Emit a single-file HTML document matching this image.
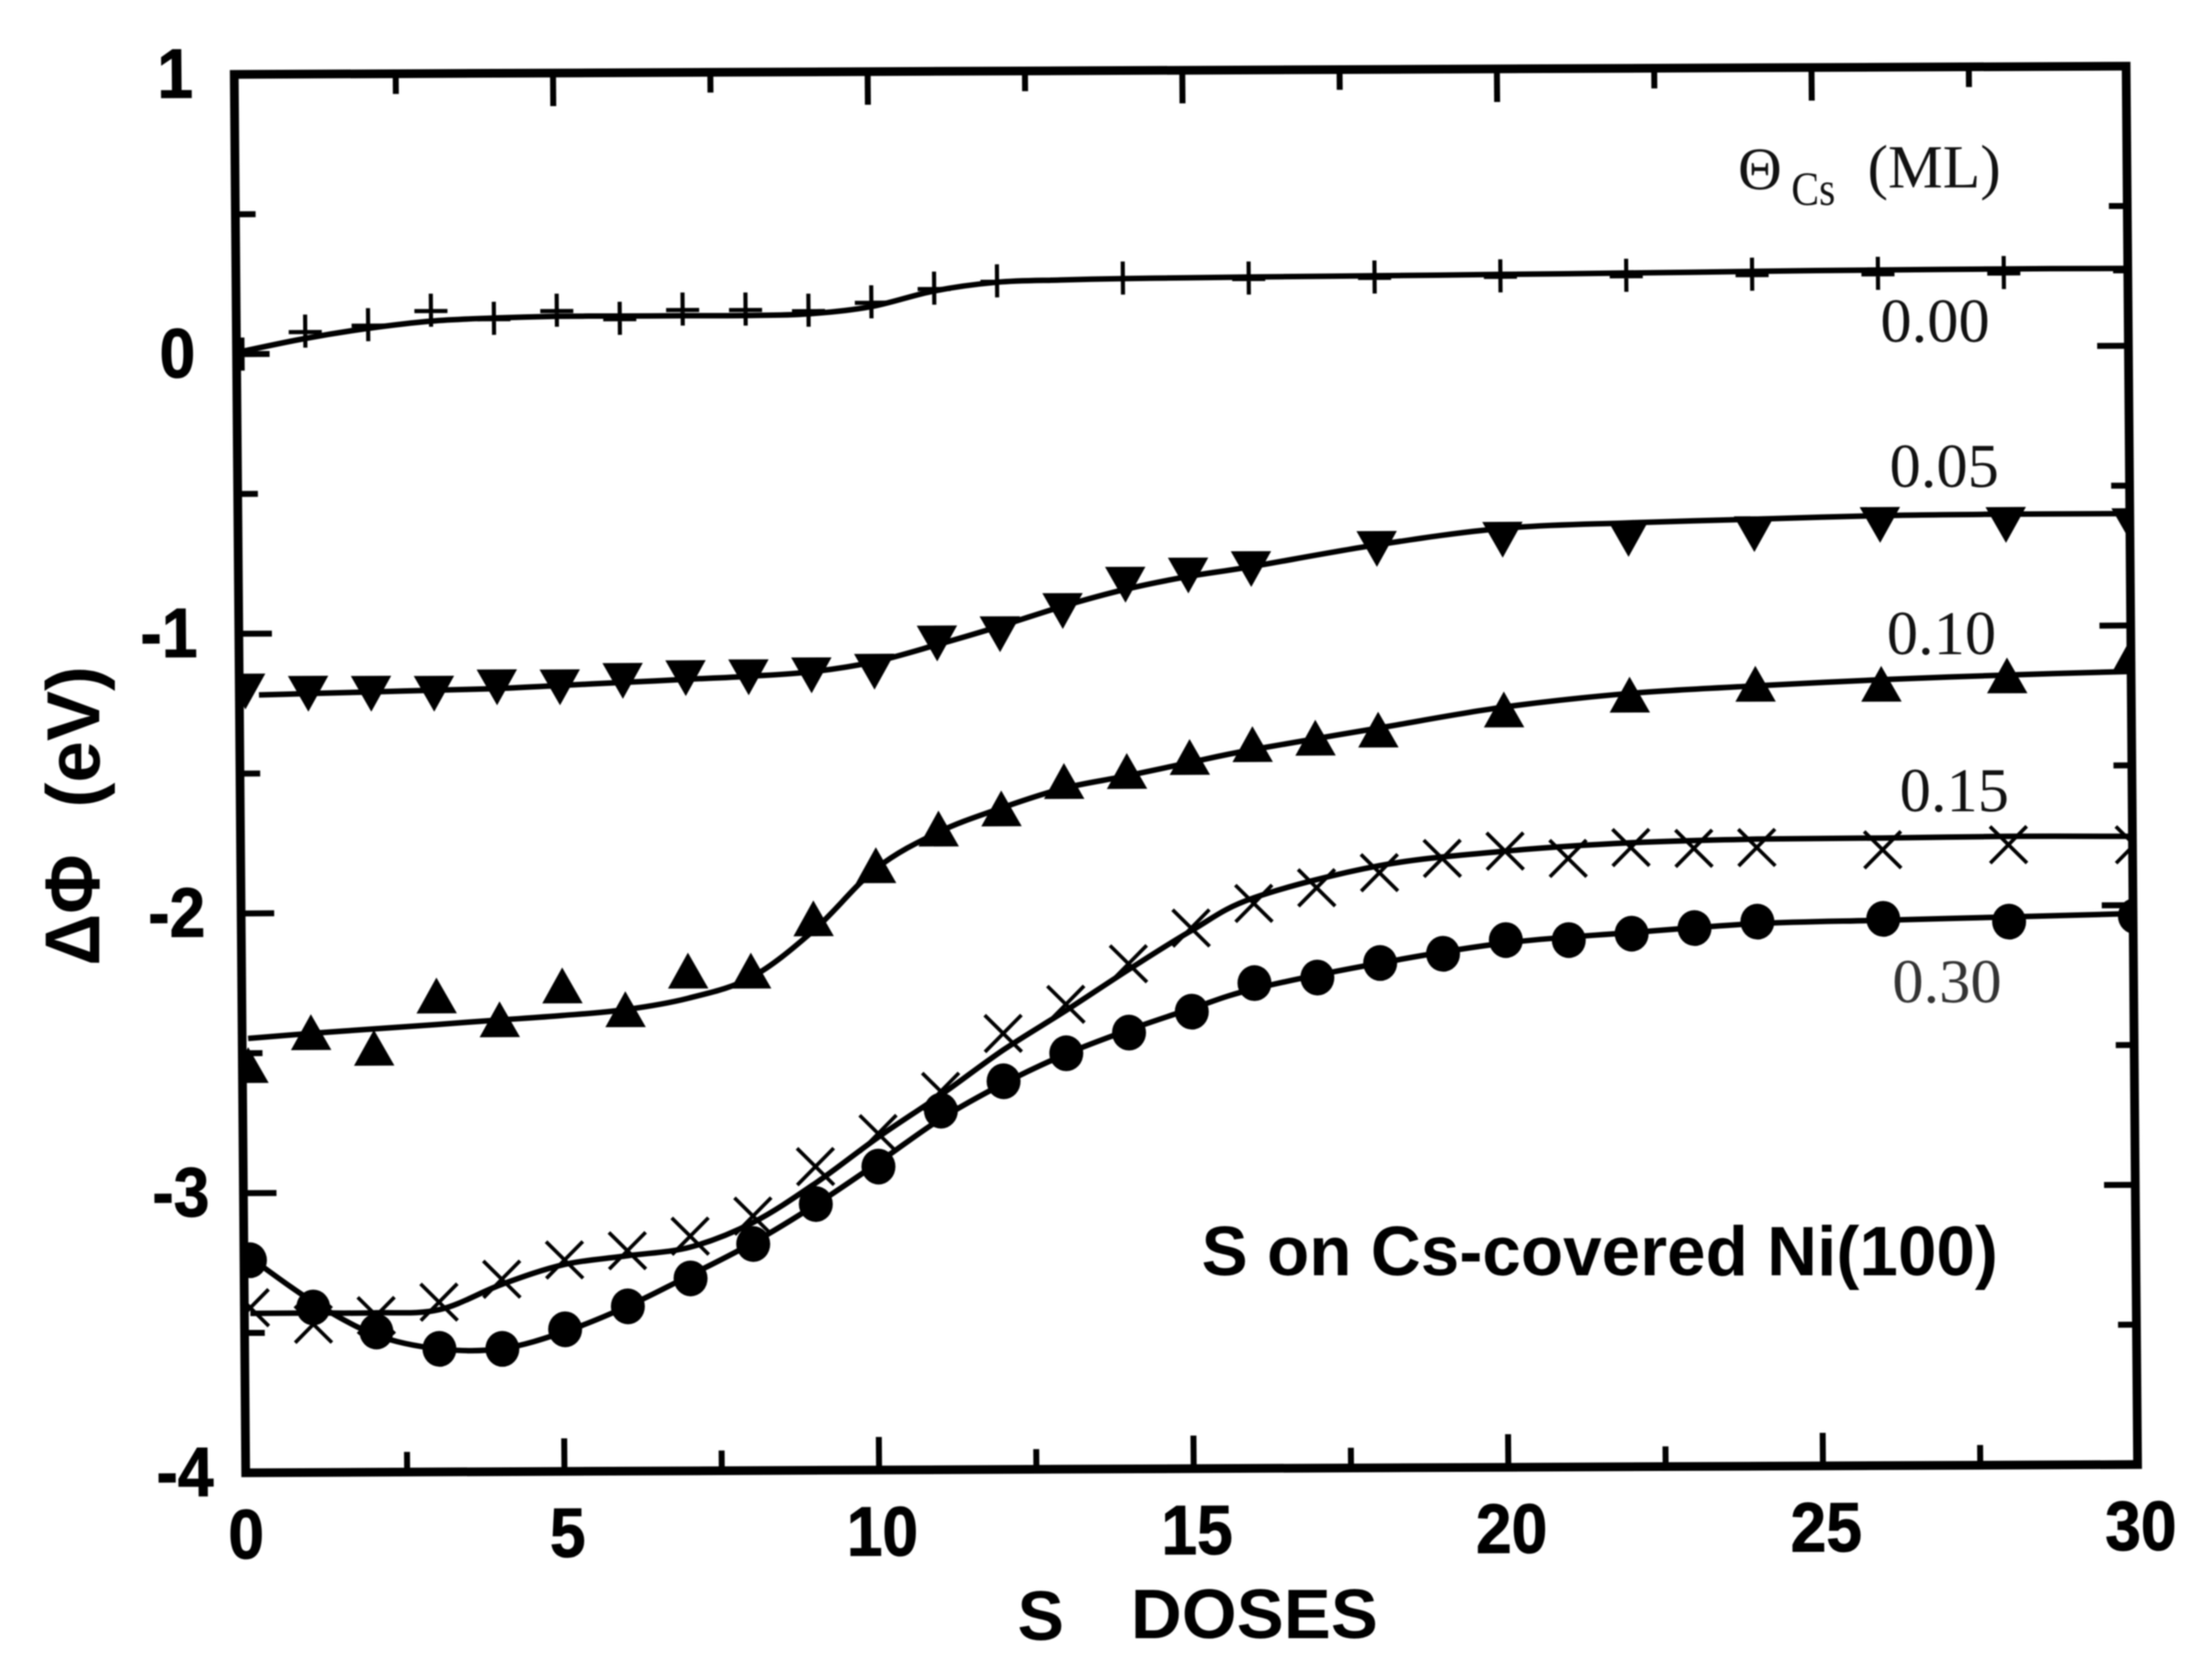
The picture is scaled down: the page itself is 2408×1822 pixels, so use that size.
<!DOCTYPE html>
<html lang="en">
<head>
<meta charset="utf-8">
<title>Work function change vs S doses on Cs-covered Ni(100)</title>
<style>
html,body{margin:0;padding:0;background:#fff;width:2408px;height:1822px;overflow:hidden}
svg{display:block;filter:blur(0.8px)}
.tick{font-family:"Liberation Sans",sans-serif;font-weight:700;font-size:76px;fill:#000;stroke:#000;stroke-width:1px}
.axt{font-family:"Liberation Sans",sans-serif;font-weight:700;font-size:76px;fill:#000}
.ser{font-family:"Liberation Serif",serif;font-size:68px;fill:#111}
</style>
</head>
<body>
<svg id="chart" xmlns="http://www.w3.org/2000/svg" width="2408" height="1822" viewBox="0 0 2408 1822">
  <rect x="0" y="0" width="2408" height="1822" fill="#fff"/>
  <g id="plot" transform="matrix(1 -0.00437 0.0082 1 -0.664 1.114)"></g>
  <text class="axt" style="font-size:84px" transform="translate(108 1051) rotate(-90)" textLength="121" lengthAdjust="spacingAndGlyphs">ΔΦ</text>
  <text class="axt" style="font-size:82px" transform="translate(108 879) rotate(-90)" textLength="154" lengthAdjust="spacingAndGlyphs">(eV)</text>
  <text class="axt" x="1133" y="1785" text-anchor="middle">S</text>
  <text class="axt" x="1231" y="1783" textLength="269" lengthAdjust="spacingAndGlyphs">DOSES</text>
  <text x="1308" y="1388" font-family="'Liberation Sans',sans-serif" font-weight="700" font-size="76" fill="#000" textLength="867" lengthAdjust="spacingAndGlyphs">S on Cs-covered Ni(100)</text>
  <g>
    <text class="ser" x="1892" y="206" style="font-size:66px">Θ</text>
    <text class="ser" x="1950" y="223" style="font-size:52px" textLength="48" lengthAdjust="spacingAndGlyphs">Cs</text>
    <text class="ser" x="2033" y="204" style="font-size:67px">(ML)</text>
  </g>
  <text class="ser" x="2047" y="372">0.00</text>
  <text class="ser" x="2057" y="530">0.05</text>
  <text class="ser" x="2054" y="712">0.10</text>
  <text class="ser" x="2068" y="883">0.15</text>
  <text class="ser" x="2060" y="1091" style="fill:#333">0.30</text>
</svg>
<script>
const xTickLabels = [0, 5, 10, 15, 20, 25, 30];
const yTickLabels = [1, 0, -1, -2, -3, -4];
const xMinorTicks = [2.5, 7.5, 12.5, 17.5, 22.5, 27.5];
const yMinorTicks = [0.5, -0.5, -1.5, -2.5, -3.5];

const curveDoses = [0,1,2,3,4,5,6,7,8,9,10,11,12,13,14,15,16,18,20,22,24,26,28,30];
const curve000 = [0.01,0.055,0.09,0.115,0.125,0.13,0.13,0.13,0.13,0.135,0.16,0.215,0.245,0.252,0.256,0.258,0.26,0.262,0.265,0.268,0.272,0.275,0.277,0.277];
const curve005 = [-1.22,-1.215,-1.21,-1.205,-1.2,-1.19,-1.18,-1.17,-1.16,-1.145,-1.11,-1.05,-0.985,-0.915,-0.855,-0.81,-0.776,-0.70,-0.643,-0.625,-0.614,-0.603,-0.60,-0.60];
const curve010 = [-2.447,-2.43,-2.415,-2.40,-2.385,-2.37,-2.35,-2.31,-2.237,-2.07,-1.85,-1.72,-1.635,-1.565,-1.522,-1.475,-1.43,-1.355,-1.282,-1.235,-1.21,-1.19,-1.175,-1.164];
const curve015 = [-3.43,-3.43,-3.43,-3.42,-3.33,-3.26,-3.23,-3.20,-3.113,-2.973,-2.81,-2.66,-2.50,-2.36,-2.215,-2.077,-1.96,-1.847,-1.797,-1.769,-1.758,-1.756,-1.752,-1.754];
const curve030 = [-3.23,-3.39,-3.51,-3.56,-3.56,-3.50,-3.41,-3.30,-3.185,-3.05,-2.90,-2.745,-2.62,-2.515,-2.43,-2.355,-2.285,-2.195,-2.125,-2.09,-2.06,-2.05,-2.04,-2.03];

const doses000 = [0,1,2,3,4,5,6,7,8,9,10,11,12,14,16,18,20,22,24,26,28,30];
const values000 = [0.0,0.081,0.103,0.154,0.124,0.152,0.122,0.154,0.153,0.148,0.177,0.225,0.25,0.258,0.256,0.258,0.26,0.26,0.262,0.263,0.264,0.27];
const doses005 = [0,1,2,3,4,5,6,7,8,9,10,11,12,13,14,15,16,18,20,22,24,26,28,30];
const values005 = [-1.205,-1.214,-1.215,-1.216,-1.194,-1.195,-1.173,-1.164,-1.162,-1.156,-1.144,-1.044,-1.012,-0.93,-0.837,-0.805,-0.783,-0.713,-0.682,-0.681,-0.666,-0.635,-0.637,-0.643];
const doses010 = [0,1,2,3,4,5,6,7,8,9,10,11,12,13,14,15,16,17,18,20,22,24,26,28,30];
const values010 = [-2.544,-2.427,-2.484,-2.298,-2.384,-2.264,-2.35,-2.213,-2.214,-2.028,-1.839,-1.709,-1.638,-1.541,-1.506,-1.457,-1.412,-1.39,-1.362,-1.292,-1.241,-1.204,-1.206,-1.178,-1.10];
const doses015 = [0,1,2,3,4,5,6,7,8,9,10,11,12,13,14,15,16,17,18,19,20,21,22,23,24,26,28,30];
const values015 = [-3.41,-3.47,-3.44,-3.393,-3.312,-3.244,-3.212,-3.161,-3.09,-2.914,-2.797,-2.647,-2.441,-2.338,-2.194,-2.067,-1.98,-1.925,-1.872,-1.822,-1.797,-1.824,-1.786,-1.79,-1.788,-1.798,-1.782,-1.784];
const doses030 = [0,1,2,3,4,5,6,7,8,9,10,11,12,13,14,15,16,17,18,19,20,21,22,23,24,26,28,30];
const values030 = [-3.24,-3.41,-3.497,-3.56,-3.561,-3.492,-3.411,-3.312,-3.19,-3.048,-2.915,-2.716,-2.612,-2.513,-2.44,-2.366,-2.265,-2.246,-2.195,-2.163,-2.115,-2.116,-2.094,-2.075,-2.053,-2.045,-2.057,-2.039];

const SVGNS = 'http://www.w3.org/2000/svg';
const plot = document.getElementById('plot');
const FRAME_LEFT = 255, LEFT = 259.5, TOP = 81, WIDTH = 2055, HEIGHT = 1522, MARK_SHIFT = 2;
function X(d){ return LEFT + (d / 30) * WIDTH; }
function Y(v){ return TOP + ((1 - v) / 5) * HEIGHT; }
function mk(tag, attrs, parent){
  const el = document.createElementNS(SVGNS, tag);
  for (const k in attrs) el.setAttribute(k, attrs[k]);
  (parent || plot).appendChild(el);
  return el;
}
function smoothPath(xs, ys){
  const p = xs.map((x, i) => [X(x) + MARK_SHIFT, Y(ys[i])]);
  let d = 'M' + p[0][0].toFixed(1) + ' ' + p[0][1].toFixed(1);
  for (let i = 0; i < p.length - 1; i++){
    const a = p[Math.max(0, i - 1)], b = p[i], c = p[i + 1], e = p[Math.min(p.length - 1, i + 2)];
    const c1x = b[0] + (c[0] - a[0]) / 6, c1y = b[1] + (c[1] - a[1]) / 6;
    const c2x = c[0] - (e[0] - b[0]) / 6, c2y = c[1] - (e[1] - b[1]) / 6;
    d += 'C' + c1x.toFixed(1) + ' ' + c1y.toFixed(1) + ' ' + c2x.toFixed(1) + ' ' + c2y.toFixed(1) + ' ' + c[0].toFixed(1) + ' ' + c[1].toFixed(1);
  }
  return d;
}

const RIGHT = X(30), BOTTOM = Y(-4);
const defs = mk('defs', {});
const clip = mk('clipPath', { id: 'plot-clip' }, defs);
mk('rect', { x: FRAME_LEFT, y: TOP, width: RIGHT - FRAME_LEFT, height: HEIGHT }, clip);

const frame = mk('rect', { x: FRAME_LEFT, y: TOP, width: RIGHT - FRAME_LEFT, height: HEIGHT, fill: 'none', stroke: '#000', 'stroke-width': 9.5 });



xTickLabels.forEach(function(t){
  if (t !== 0 && t !== 30){
    const a = mk('line', { x1: X(t), x2: X(t), y1: TOP, y2: TOP + 36, stroke: '#000', 'stroke-width': 6.5 });
    
    
    const b = mk('line', { x1: X(t), x2: X(t), y1: BOTTOM, y2: BOTTOM - 36, stroke: '#000', 'stroke-width': 6.5 });
    
    
  }
  const lx = t === 0 ? FRAME_LEFT : X(t) + 3;
  const lab = mk('text', { class: 'tick', 'text-anchor': 'middle', transform: 'translate(' + lx + ' ' + (BOTTOM + 93) + ') scale(0.92 1)' });
  
  
  lab.textContent = t;
});
xMinorTicks.forEach(function(t){
  const a = mk('line', { x1: X(t), x2: X(t), y1: TOP, y2: TOP + 22, stroke: '#000', 'stroke-width': 6.5 });
  
  
  const b = mk('line', { x1: X(t), x2: X(t), y1: BOTTOM, y2: BOTTOM - 22, stroke: '#000', 'stroke-width': 6.5 });
  
  
});
yTickLabels.forEach(function(t){
  if (t !== 1 && t !== -4){
    const a = mk('line', { x1: FRAME_LEFT, x2: FRAME_LEFT + 36, y1: Y(t), y2: Y(t), stroke: '#000', 'stroke-width': 6.5 });
    
    
    const b = mk('line', { x1: RIGHT, x2: RIGHT - 34, y1: Y(t), y2: Y(t), stroke: '#000', 'stroke-width': 6.5 });
    
    
  }
  const shift = t < -1 ? 6 + (-t - 2) * 2 : 0;
  const lab = mk('text', { class: 'tick', 'text-anchor': 'end', transform: 'translate(' + (210 + shift) + ' ' + (Y(t) + 25) + ') scale(0.92 1)' });
  
  
  lab.textContent = t;
});
yMinorTicks.forEach(function(t){
  const a = mk('line', { x1: FRAME_LEFT, x2: FRAME_LEFT + 22, y1: Y(t), y2: Y(t), stroke: '#000', 'stroke-width': 6.5 });
  
  
  const b = mk('line', { x1: RIGHT, x2: RIGHT - 20, y1: Y(t), y2: Y(t), stroke: '#000', 'stroke-width': 6.5 });
  
  
});

function drawMarker(g, kind, x, y){
  let el;
  if (kind === 'plus'){
    el = mk('path', { d: 'M' + (x - 18) + ' ' + (y + 1) + 'H' + (x + 18) + 'M' + x + ' ' + (y - 18) + 'V' + (y + 18), fill: 'none', stroke: '#000', 'stroke-width': 4.5 }, g);
  } else if (kind === 'down'){
    el = mk('path', { d: 'M' + (x - 22) + ' ' + (y - 19) + 'H' + (x + 22) + 'L' + x + ' ' + (y + 20) + 'Z', fill: '#000' }, g);
  } else if (kind === 'up'){
    el = mk('path', { d: 'M' + (x - 22) + ' ' + (y + 19) + 'H' + (x + 22) + 'L' + x + ' ' + (y - 20) + 'Z', fill: '#000' }, g);
  } else if (kind === 'cross'){
    el = mk('path', { d: 'M' + (x - 20) + ' ' + (y - 20) + 'L' + (x + 20) + ' ' + (y + 20) + 'M' + (x + 20) + ' ' + (y - 20) + 'L' + (x - 20) + ' ' + (y + 20), fill: 'none', stroke: '#000', 'stroke-width': 4 }, g);
  } else {
    el = mk('ellipse', { cx: x, cy: y, rx: 18.5, ry: 19.5, fill: '#000' }, g);
  }
  
  
}

function drawSeries(name, kind, doses, values, curve, startGap){
  const g = mk('g', {});
  
  
  const line = mk('path', { d: smoothPath(curveDoses, curve), fill: 'none', stroke: '#000', 'stroke-width': 6, 'stroke-linejoin': 'round' }, g);
  if (startGap) line.setAttribute('stroke-dasharray', '0 ' + startGap + ' 99999');
  
  
  const marks = mk('g', { 'clip-path': 'url(#plot-clip)' }, g);
  
  
  doses.forEach(function(d, i){ drawMarker(marks, kind, X(d) + MARK_SHIFT, Y(values[i])); });
}

drawSeries('coverage-0.00', 'plus', doses000, values000, curve000, 0);
drawSeries('coverage-0.05', 'down', doses005, values005, curve005, 15);
drawSeries('coverage-0.10', 'up', doses010, values010, curve010, 0);
drawSeries('coverage-0.15', 'cross', doses015, values015, curve015, 0);
drawSeries('coverage-0.30', 'circle', doses030, values030, curve030, 0);
</script>
</body>
</html>
